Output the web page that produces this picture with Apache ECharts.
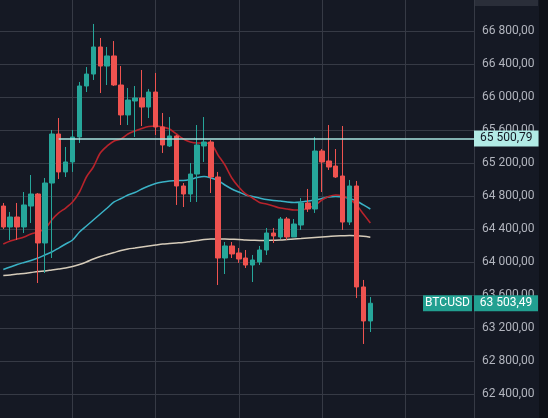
<!DOCTYPE html>
<html>
<head>
<meta charset="utf-8">
<script src="https://cdn.jsdelivr.net/npm/echarts@6/dist/echarts.min.js"></script>
<style>
  html, body { margin: 0; padding: 0; background: #151924; }
  #chart { width: 548px; height: 418px; }
</style>
</head>
<body>
<div id="chart"></div>
<script>
// candles, oldest first (price in USD)
const opens = [64682, 64428, 64549, 64428, 64682, 64828, 64234, 64961, 65555, 65095,
  65216, 65519, 66137, 66282, 66610, 66379, 66501, 66149, 65786, 65955,
  65992, 65882, 66064, 65640, 65410, 65531, 64925, 64828, 65070, 65410,
  65458, 65034, 64052, 64198, 64113, 64052, 63967, 64004, 64149, 64355,
  64307, 64525, 64307, 64452, 64719, 64646, 65349, 65228, 65167, 65046,
  64488, 64925, 63701, 63289];
const closes = [64428, 64549, 64428, 64695, 64828, 64234, 64961, 65555, 65095, 65216,
  65519, 66137, 66282, 66610, 66379, 66501, 66149, 65786, 65967, 65992,
  65882, 66064, 65640, 65422, 65531, 64925, 64828, 65070, 65422, 65458,
  65034, 64052, 64198, 64101, 64040, 63967, 64028, 64149, 64355, 64319,
  64525, 64307, 64464, 64719, 64646, 65349, 65216, 65155, 65034, 64488,
  64925, 63701, 63289, 63503.49];
const lows = [64404, 64270, 64270, 64355, 64476, 63749, 63870, 64052, 65010, 65034,
  65095, 65446, 66064, 66210, 66052, 66149, 66137, 65664, 65664, 65519,
  65652, 65749, 65543, 65325, 65398, 64695, 64670, 64731, 64731, 65216,
  64840, 63725, 63858, 64052, 63992, 63931, 63761, 63967, 64089, 64234,
  64282, 64270, 64307, 64392, 64610, 64598, 64852, 65119, 65022, 64392,
  64452, 63567, 63010, 63155];
const highs = [64719, 64610, 64719, 64852, 65058, 64840, 65022, 65604, 65749, 65398,
  65604, 66186, 66367, 66889, 66719, 66610, 66682, 66379, 66113, 66137,
  66331, 66101, 66295, 65810, 65761, 65543, 64961, 65204, 65664, 65761,
  65482, 65095, 64246, 64246, 64173, 64149, 64089, 64198, 64416, 64416,
  64549, 64549, 64525, 64779, 64889, 65519, 65373, 65664, 65373, 65652,
  64998, 64986, 63786, 63579];

// moving averages, one value per candle
const maFast = [64222, 64258, 64282, 64307, 64343, 64367, 64404, 64513, 64598, 64658,
  64731, 64852, 65034, 65155, 65325, 65410, 65470, 65495, 65555, 65592,
  65622, 65646, 65652, 65640, 65616, 65555, 65495, 65458, 65446, 65446,
  65434, 65301, 65179, 65022, 64913, 64828, 64779, 64725, 64707, 64682,
  64658, 64646, 64634, 64634, 64658, 64689, 64755, 64798, 64816, 64804,
  64767, 64695, 64586, 64476];
const maMid = [63913, 63943, 63973, 63998, 64022, 64052, 64089, 64125, 64173, 64222,
  64270, 64367, 64440, 64513, 64586, 64658, 64731, 64773, 64816, 64846,
  64889, 64925, 64955, 64973, 64986, 64992, 64992, 65004, 65028, 65040,
  65022, 64992, 64937, 64889, 64852, 64816, 64798, 64779, 64761, 64749,
  64743, 64731, 64725, 64731, 64743, 64755, 64773, 64792, 64798, 64792,
  64773, 64743, 64695, 64646];
const maSlow = [63840, 63846, 63858, 63864, 63876, 63889, 63895, 63907, 63919, 63931,
  63949, 63973, 64004, 64040, 64070, 64095, 64119, 64143, 64161, 64173,
  64186, 64198, 64210, 64222, 64228, 64234, 64240, 64252, 64264, 64276,
  64282, 64282, 64282, 64279, 64276, 64270, 64267, 64264, 64264, 64267,
  64270, 64276, 64282, 64288, 64295, 64301, 64307, 64313, 64319, 64322,
  64325, 64322, 64315, 64303];

const symbol = 'BTCUSD';
const levelPrice = 65500.79;   // horizontal ray
const lastPrice = 63503.49;
const firstSlot = 2;           // bar slot of the first candle
const raySlot = 10;            // bar slot where the ray starts
const lastSlot = 69.97;        // right edge of the plot, in bar slots

function fmt(v) {
  const parts = v.toFixed(2).split('.');
  return parts[0].replace(/\B(?=(\d{3})+(?!\d))/g, ' ') + ',' + parts[1];
}

const ohlc = opens.map((o, i) => [i + firstSlot, o, closes[i], lows[i], highs[i]]);
const toLine = arr => arr.map((v, i) => [i + firstSlot, v]);

const chart = echarts.init(document.getElementById('chart'));
const font = 'Roboto, "Liberation Sans", sans-serif';

chart.setOption({
  backgroundColor: '#151924',
  animation: false,
  grid: { left: -10.55, right: 74, top: -1.7, bottom: -9.3, outerBoundsMode: 'none', containLabel: false },
  xAxis: {
    type: 'value',
    min: 0,
    max: lastSlot,
    interval: 12,
    axisLine: { show: false },
    axisTick: { show: false },
    axisLabel: { show: false },
    splitLine: { show: true, lineStyle: { color: '#363a45', width: 1 } }
  },
  yAxis: {
    type: 'value',
    position: 'right',
    min: 62000,
    max: 67200,
    interval: 400,
    axisLine: { show: true, lineStyle: { color: '#434651' } },
    axisTick: { show: false },
    axisLabel: {
      color: '#b2b5be',
      fontFamily: font,
      fontSize: 12,
      margin: 8,
      showMaxLabel: false,
      showMinLabel: false,
      formatter: fmt
    },
    splitLine: { show: true, lineStyle: { color: '#363a45', width: 1 } }
  },
  graphic: [
    { type: 'rect', right: 0, top: 0, shape: { width: 9, height: 418 }, style: { fill: '#0e1118' } },
    { type: 'rect', left: 474, top: 0, shape: { width: 64, height: 6 }, style: { fill: '#2a2e39' } }
  ],
  series: [
    {
      type: 'line', name: 'MA slow', data: toLine(maSlow), smooth: 0.3,
      showSymbol: false, z: 1, lineStyle: { color: '#d6ccba', width: 1.5 }
    },
    {
      type: 'line', name: 'MA mid', data: toLine(maMid), smooth: 0.3,
      showSymbol: false, z: 1, lineStyle: { color: '#3ab2c6', width: 1.5 }
    },
    {
      type: 'line', name: 'MA fast', data: toLine(maFast), smooth: 0.3,
      showSymbol: false, z: 1, lineStyle: { color: '#b8232b', width: 1.6 }
    },
    {
      type: 'candlestick',
      name: symbol,
      data: ohlc,
      encode: { x: 0, y: [1, 2, 3, 4] },
      barWidth: 5,
      clip: false,
      z: 3,
      itemStyle: {
        color: '#26a69a', color0: '#ef5350',
        borderColor: '#26a69a', borderColor0: '#ef5350',
        borderWidth: 1
      },
      markLine: {
        silent: true,
        symbol: ['none', 'none'],
        animation: false,
        data: [
          [
            {
              coord: [raySlot, levelPrice],
              lineStyle: { color: '#a9e4e0', width: 1.5, type: 'solid' },
              label: {
                show: true, position: 'end', distance: 0,
                formatter: fmt(levelPrice),
                color: '#131722', backgroundColor: '#b2ebe6',
                fontFamily: font, fontSize: 12, lineHeight: 13,
                padding: [2, 6, 1, 6]
              }
            },
            { coord: [lastSlot, levelPrice] }
          ],
          {
            yAxis: lastPrice,
            lineStyle: { color: 'rgba(0,0,0,0)', width: 0 },
            label: {
              show: true, position: 'end', distance: -51,
              formatter: '{a|' + symbol + '}{g|}{b|' + fmt(lastPrice) + '}',
              rich: {
                a: { width: 49, height: 16, lineHeight: 16, align: 'center', color: '#ffffff',
                     backgroundColor: '#22a091', fontFamily: font, fontSize: 12 },
                g: { width: 2, height: 16 },
                b: { width: 64, height: 16, lineHeight: 16, align: 'center', color: '#ffffff',
                     backgroundColor: '#22a091', fontFamily: font, fontSize: 12 }
              }
            }
          }
        ]
      }
    }
  ]
});
</script>
</body>
</html>
